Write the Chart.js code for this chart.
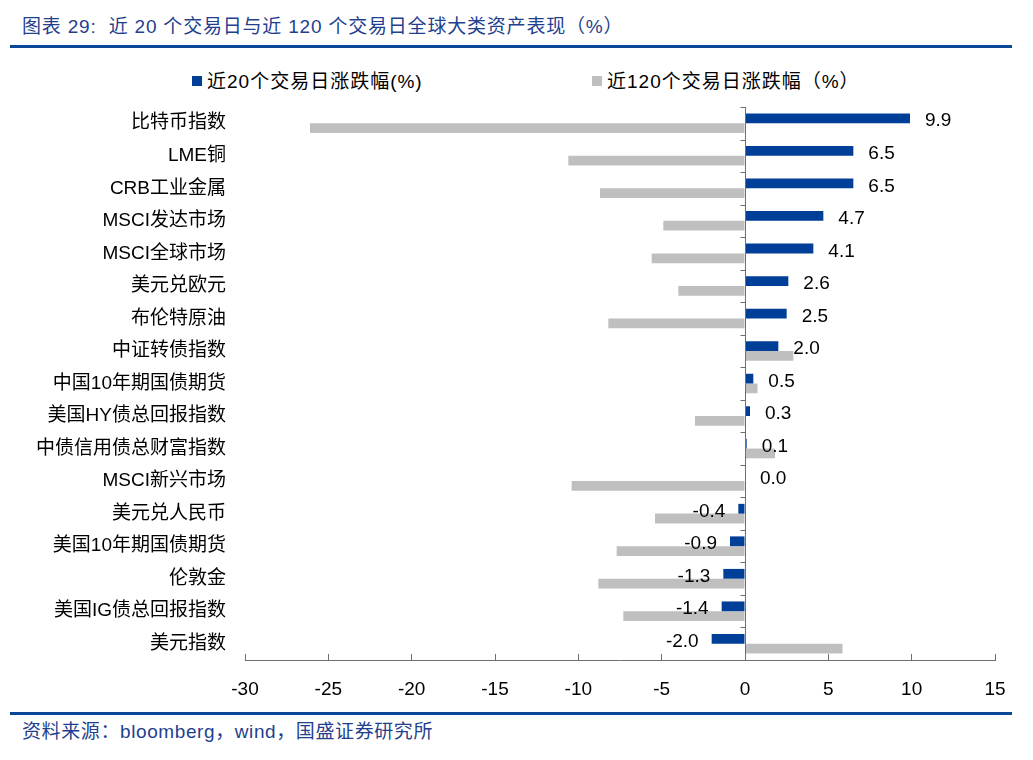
<!DOCTYPE html>
<html>
<head>
<meta charset="utf-8">
<script src="https://cdn.jsdelivr.net/npm/chart.js@4"></script>
<style>
  html, body { margin: 0; padding: 0; background: #fff; }
  #wrap { position: relative; width: 1033px; height: 760px; overflow: hidden; font-family: "Liberation Sans", "Noto Sans CJK SC", sans-serif; }
  #title { position: absolute; left: 22px; top: 11px; font-size: 19px; color: #1f3f8f; letter-spacing: 0.8px; white-space: nowrap; }
  .rule { position: absolute; left: 10px; width: 1002px; height: 3px; background: #0b4697; }
  #rule1 { top: 45px; }
  #rule2 { top: 712px; }
  .leg { position: absolute; top: 66px; font-size: 19px; color: #000; white-space: nowrap; letter-spacing: 1px; }
  .leg i { display: inline-block; width: 10px; height: 10px; margin-right: 5px; vertical-align: 2px; }
  #source { position: absolute; left: 22px; top: 716px; font-size: 19px; color: #1f3f8f; white-space: nowrap; letter-spacing: 0.6px; }
  #cv { position: absolute; left: 0; top: 75px; }
</style>
</head>
<body>
<div id="wrap">
  <div id="title">图表 29:&nbsp; 近 20 个交易日与近 120 个交易日全球大类资产表现（%）</div>
  <div class="rule" id="rule1"></div>
  <div class="leg" id="leg1" style="left:192px"><i style="background:#003f97"></i>近20个交易日涨跌幅(%)</div>
  <div class="leg" id="leg2" style="left:592px"><i style="background:#bfbfbf"></i>近120个交易日涨跌幅（%）</div>
  <div id="cv"><canvas id="chart" width="1033" height="640"></canvas></div>
  <div class="rule" id="rule2"></div>
  <div id="source">资料来源：bloomberg，wind，国盛证券研究所</div>
</div>
<script>
const categories = ["比特币指数", "LME铜", "CRB工业金属", "MSCI发达市场", "MSCI全球市场", "美元兑欧元", "布伦特原油", "中证转债指数", "中国10年期国债期货", "美国HY债总回报指数", "中债信用债总财富指数", "MSCI新兴市场", "美元兑人民币", "美国10年期国债期货", "伦敦金", "美国IG债总回报指数", "美元指数"];
const series20Name = "近20个交易日涨跌幅(%)";
const series120Name = "近120个交易日涨跌幅（%）";
const values20 = [9.9, 6.5, 6.5, 4.7, 4.1, 2.6, 2.5, 2.0, 0.5, 0.3, 0.1, 0.0, -0.4, -0.9, -1.3, -1.4, -2.0];
const values120 = [-26.1, -10.6, -8.7, -4.9, -5.6, -4.0, -8.2, 2.9, 0.75, -3.0, 1.8, -10.4, -5.4, -7.7, -8.8, -7.3, 5.85];
const xTicks = [-30, -25, -20, -15, -10, -5, 0, 5, 10, 15];

const BLUE = "#003f97", GRAY = "#bfbfbf", AXIS = "#6e6e6e";

const zeroLinePlugin = {
  id: "zeroLine",
  afterDatasetsDraw(chart) {
    const ctx = chart.ctx, xs = chart.scales.x, ys = chart.scales.y;
    const area = chart.chartArea;
    const x0 = Math.round(xs.getPixelForValue(0)) + 0.5;
    ctx.save();
    ctx.strokeStyle = AXIS;
    ctx.lineWidth = 1;
    ctx.beginPath();
    ctx.moveTo(x0, area.top);
    ctx.lineTo(x0, area.bottom);
    const n = categories.length;
    const step = (ys.getPixelForValue(1) - ys.getPixelForValue(0));
    for (let i = 0; i <= n; i++) {
      const yy = Math.round(ys.getPixelForValue(i) - step / 2) + 0.5;
      ctx.moveTo(x0 - 5, yy);
      ctx.lineTo(x0, yy);
    }
    ctx.stroke();
    ctx.restore();
  }
};

const valueLabelPlugin = {
  id: "valueLabels",
  afterDatasetsDraw(chart) {
    const ctx = chart.ctx, ys = chart.scales.y;
    const meta = chart.getDatasetMeta(0);
    ctx.save();
    ctx.font = "19px 'Liberation Sans', sans-serif";
    ctx.fillStyle = "#000";
    ctx.textBaseline = "middle";
    meta.data.forEach((bar, i) => {
      const v = values20[i];
      const y = ys.getPixelForValue(i) - 2;
      const txt = v.toFixed(1);
      if (v >= 0) {
        ctx.textAlign = "left";
        ctx.fillText(txt, bar.x + 15, y);
      } else {
        ctx.textAlign = "right";
        ctx.fillText(txt, bar.x - 13, y);
      }
    });
    ctx.restore();
  }
};

new Chart(document.getElementById("chart"), {
  type: "bar",
  data: {
    labels: categories,
    datasets: [
      { label: series20Name, data: values20, backgroundColor: BLUE, categoryPercentage: 0.6, barPercentage: 1.0 },
      { label: series120Name, data: values120, backgroundColor: GRAY, categoryPercentage: 0.6, barPercentage: 1.0 }
    ]
  },
  options: {
    indexAxis: "y",
    responsive: false,
    animation: false,
    devicePixelRatio: 1,
    layout: { padding: { left: 0, right: 38, top: 32, bottom: 0 } },
    plugins: { legend: { display: false }, tooltip: { enabled: false } },
    scales: {
      x: {
        min: -30, max: 15,
        afterBuildTicks(scale) { scale.ticks = xTicks.map(v => ({ value: v })); },
        afterFit(scale) { scale.height = 55; },
        border: { display: true, color: AXIS, width: 1 },
        grid: { drawOnChartArea: false, drawTicks: true, tickLength: -6, color: AXIS },
        ticks: { color: "#000", font: { family: "'Liberation Sans', sans-serif", size: 19 }, padding: 24, maxRotation: 0 }
      },
      y: {
        afterFit(scale) { scale.width = 245; },
        border: { display: false },
        grid: { display: false },
        ticks: { color: "#000", font: { family: "'Liberation Sans', 'Noto Sans CJK SC', sans-serif", size: 19 }, padding: 11, autoSkip: false }
      }
    }
  },
  plugins: [zeroLinePlugin, valueLabelPlugin]
});
</script>
</body>
</html>
